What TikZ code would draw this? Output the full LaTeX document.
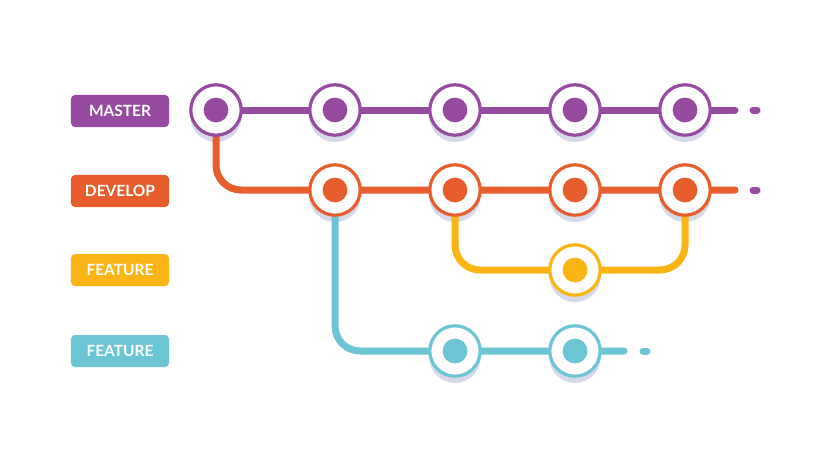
\documentclass[tikz,border=0pt]{standalone}
\usepackage{fontspec}
\setsansfont{Lato}

\definecolor{masterc}{RGB}{150,74,160}
\definecolor{developc}{RGB}{232,93,44}
\definecolor{featurec}{RGB}{250,181,20}
\definecolor{topicc}{RGB}{108,197,212}
\definecolor{shadowc}{RGB}{214,217,234}

\pgfdeclarelayer{shade}
\pgfdeclarelayer{lines}
\pgfsetlayers{shade,lines,main}

\tikzset{
    commit/.style={circle, draw=#1, fill=white, line width=0.08cm, minimum size=1.26cm, inner sep=0pt,
        path picture={\fill[#1] (path picture bounding box.center) circle (0.31cm);}},
    branch/.style={draw=#1, line width=0.175cm, line cap=round, rounded corners=0.625cm},
    tag/.style={fill=#1, rounded corners=0.1cm, minimum width=2.45cm, minimum height=0.8cm, inner sep=0pt,
        text=white, font=\sffamily\bfseries\fontsize{11}{13}\selectfont}
}

\begin{document}
\begin{tikzpicture}[x=0.025cm, y=-0.025cm]
        \useasboundingbox (0,0) rectangle (831,475);

        % labels
        \node [tag=masterc] (lmaster) at (120,111) {MASTER};
        \node [tag=developc] (ldevelop) at (120,191) {DEVELOP};
        \node [tag=featurec] (lfeature) at (120,270) {FEATURE};
        \node [tag=topicc] (ltopic) at (120,351) {FEATURE};

        % commits
        \node [commit=masterc] (m1) at (216,110) {};
        \node [commit=masterc] (m2) at (335,110) {};
        \node [commit=masterc] (m3) at (455,110) {};
        \node [commit=masterc] (m4) at (575,110) {};
        \node [commit=masterc] (m5) at (685,110) {};

        \node [commit=developc] (d1) at (335,190) {};
        \node [commit=developc] (d2) at (455,190) {};
        \node [commit=developc] (d3) at (575,190) {};
        \node [commit=developc] (d4) at (685,190) {};

        \node [commit=featurec] (f1) at (575,270) {};

        \node [commit=topicc] (c1) at (455,351) {};
        \node [commit=topicc] (c2) at (575,351) {};

        \coordinate (mend) at (735,110);
        \coordinate (mdota) at (753,110);
        \coordinate (mdotb) at (757,110);
        \coordinate (dend) at (735,190);
        \coordinate (ddota) at (753,190);
        \coordinate (ddotb) at (757,190);
        \coordinate (cend) at (624,351);
        \coordinate (cdota) at (643,351);
        \coordinate (cdotb) at (647,351);

        % shadows under the commits
        \begin{pgfonlayer}{shade}
        \fill [white] (0,0) rectangle (831,475);
        \foreach \c in {m1,m2,m3,m4,m5,d1,d2,d3,d4,f1,c1,c2}
            \fill [shadowc] ([yshift=-0.16cm]\c.center) circle (0.64cm);
        \end{pgfonlayer}

        % branches
        \begin{pgfonlayer}{lines}
        \draw [branch=masterc] (m1.center) -- (m2.center) -- (m3.center) -- (m4.center) -- (m5.center) -- (mend);
        \draw [branch=masterc] (mdota) -- (mdotb);

        \draw [branch=developc] (m1.center) |- (d1.center) -- (d2.center) -- (d3.center) -- (d4.center) -- (dend);
        \draw [branch=masterc] (ddota) -- (ddotb);

        \draw [branch=featurec] (d2.center) |- (f1.center) -| (d4.center);

        \draw [branch=topicc] (d1.center) |- (c1.center) -- (c2.center) -- (cend);
        \draw [branch=topicc] (cdota) -- (cdotb);
        \end{pgfonlayer}
    \end{tikzpicture}
\end{document}
